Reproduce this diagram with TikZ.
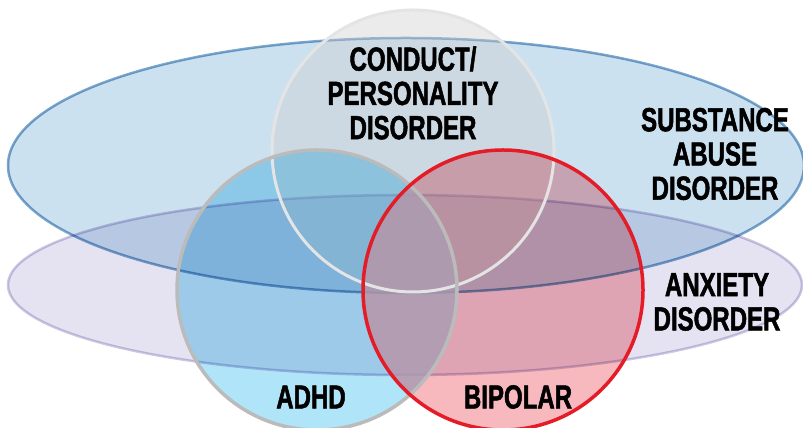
\documentclass[tikz,border=0pt]{standalone}
\usepackage{fontspec}
\newfontfamily\labelfont{Liberation Sans}[FakeStretch=0.72, BoldFeatures={FakeBold=1.5}]
\usepackage{tikz}

\definecolor{abuseblue}{RGB}{204,225,240}
\definecolor{abuseline}{RGB}{125,168,206}
\definecolor{anxietylav}{RGB}{229,227,241}
\definecolor{anxietyline}{RGB}{205,200,228}
\definecolor{conductgrey}{RGB}{205,205,205}
\definecolor{conductline}{RGB}{228,228,228}
\definecolor{adhdblue}{RGB}{176,228,248}
\definecolor{adhdline}{RGB}{187,187,187}
\definecolor{bipolarpink}{RGB}{248,185,190}
\definecolor{bipolarline}{RGB}{228,28,40}
\definecolor{overlapmauve}{RGB}{185,160,180}

\begin{document}
\begin{tikzpicture}[x=0.02cm, y=0.02cm,
	label text/.style={font=\labelfont\bfseries\fontsize{19}{19.5}\selectfont, align=center, text=black}]
			%%%%% START %%%%%
			\useasboundingbox (0, 0) rectangle (803, 428);
			
			% the two wide ellipses
			\fill[abuseblue, blend mode=multiply] (406, 262.5) ellipse (398 and 127.5);
			\draw[line width=0.5mm, abuseline, blend mode=multiply] (406, 262.5) ellipse (398 and 127.5);
			\fill[anxietylav, blend mode=multiply] (405, 143) ellipse (397 and 90);
			\draw[line width=0.5mm, anxietyline, blend mode=multiply] (405, 143) ellipse (397 and 90);
			
			% fills of the three circles
			\fill[conductgrey, fill opacity=0.4] (413, 277) circle (141);
			\fill[adhdblue, blend mode=multiply] (317, 138) circle (140);
			\fill[bipolarpink, blend mode=multiply] (503, 138) circle (140);
			
			% ADHD / bipolar lens
			\begin{scope}
				\clip (317, 138) circle (140);
				\fill[overlapmauve, fill opacity=0.8] (503, 138) circle (140);
			\end{scope}
			
			% circle outlines on top
			\draw[line width=0.6mm, conductline] (413, 277) circle (141);
			\draw[line width=0.7mm, adhdline] (317, 138) circle (140);
			\draw[line width=0.7mm, bipolarline] (503, 138) circle (140);
			
			% labels
			\node[label text] (conduct) at (413, 335) {CONDUCT/\\PERSONALITY\\DISORDER};
			\node[label text] (abuse) at (715, 274) {SUBSTANCE\\ABUSE\\DISORDER};
			\node[label text] (anxiety) at (717, 126) {ANXIETY\\DISORDER};
			\node[label text] (adhd) at (311, 31) {ADHD};
			\node[label text] (bipolar) at (518, 31) {BIPOLAR};
			
			%%%%% END %%%%%
\end{tikzpicture}
\end{document}
